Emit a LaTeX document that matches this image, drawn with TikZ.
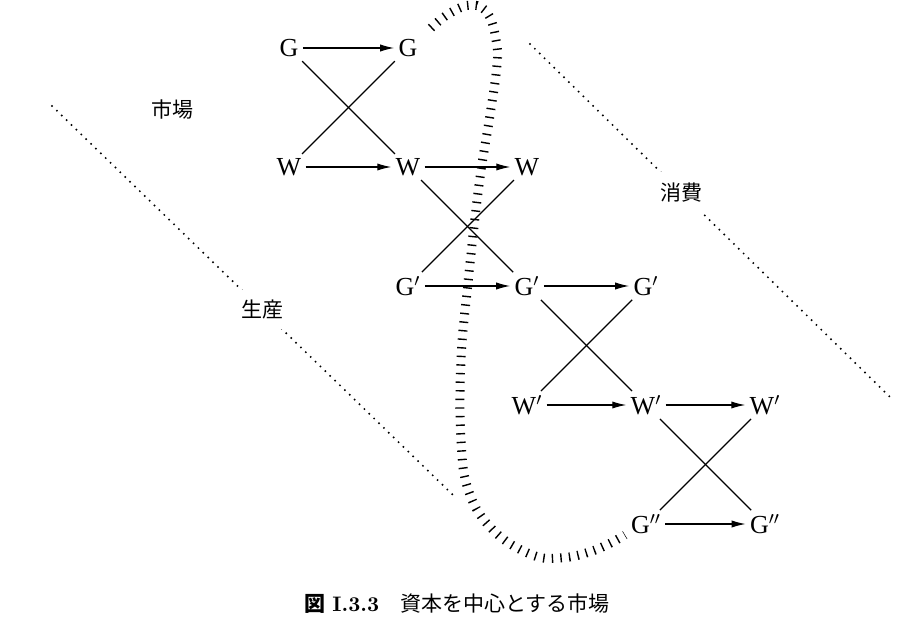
\documentclass[tikz,border=0pt]{standalone}
\usepackage{fontspec}
\usetikzlibrary{arrows.meta,positioning}
\newfontfamily\jp{Noto Sans CJK JP}
\newfontfamily\tms{Liberation Serif}

\begin{document}
\begin{tikzpicture}[
  x=0.5pt, y=-0.5pt,
  on grid, node distance=59.5pt,
  every node/.style={font=\fontsize{13}{15}\tms, inner sep=2pt},
  lbl/.style={font=\fontsize{10.5}{12}\jp},
  flow/.style={-{Latex[length=7pt,width=3.6pt]}, semithick},
  swap/.style={semithick},
  dotline/.style={line width=1.1pt, line cap=round, dash pattern=on 0pt off 3.4pt},
  hatch/.style={line width=4.5pt, dash pattern=on 0.7pt off 3.6pt}
]
\useasboundingbox (0,0) rectangle (914,641);

% staircase of G and W
\node (g0) at (289,48) {G};
\node[right=of g0] (g1) {G};
\node[below=of g0] (w0) {W};
\node[right=of w0] (w1) {W};
\node[right=of w1] (w2) {W};
\node[below=of w1] (gp1) {G$'$};
\node[right=of gp1] (gp2) {G$'$};
\node[right=of gp2] (gp3) {G$'$};
\node[below=of gp2] (wp2) {W$'$};
\node[right=of wp2] (wp3) {W$'$};
\node[right=of wp3] (wp4) {W$'$};
\node[below=of wp3] (gpp3) {G$''$};
\node[right=of gpp3] (gpp4) {G$''$};

\draw[flow] (g0) -- (g1);
\draw[flow] (w0) -- (w1);
\draw[flow] (w1) -- (w2);
\draw[flow] (gp1) -- (gp2);
\draw[flow] (gp2) -- (gp3);
\draw[flow] (wp2) -- (wp3);
\draw[flow] (wp3) -- (wp4);
\draw[flow] (gpp3) -- (gpp4);

\draw[swap] (g0) -- (w1);
\draw[swap] (w0) -- (g1);
\draw[swap] (w1) -- (gp2);
\draw[swap] (w2) -- (gp1);
\draw[swap] (gp2) -- (wp3);
\draw[swap] (gp3) -- (wp2);
\draw[swap] (wp3) -- (gpp4);
\draw[swap] (wp4) -- (gpp3);

% borders
\node[lbl] (ichiba) at (172,110) {市場};
\coordinate (a0) at (52,106);
\coordinate (a1) at (453,495);
\draw[dotline] (a0) -- node[lbl, pos=0.524, fill=white, inner sep=5pt] (seisan) {生産} (a1);
\coordinate (b0) at (530,44);
\coordinate (b1) at (893,400);
\draw[dotline] (b0) -- node[lbl, pos=0.416, fill=white, inner sep=5pt] (shohi) {消費} (b1);

% capital loop
\draw[hatch] plot[smooth, tension=0.7] coordinates {(431,28) (450,13) (472,5) (488,14) (496,40) (497,65) (490,115) (479,185) (468,283) (461,360) (461,440) (469,492) (493,530) (530,554) (560,558) (595,550) (625,535)};

\node[font=\fontsize{10.5}{12}\selectfont] (caption) at (457,604) {{\jp\bfseries 図} \textbf{I.3.3}\quad{\jp 資本を中心とする市場}};
\end{tikzpicture}
\end{document}
